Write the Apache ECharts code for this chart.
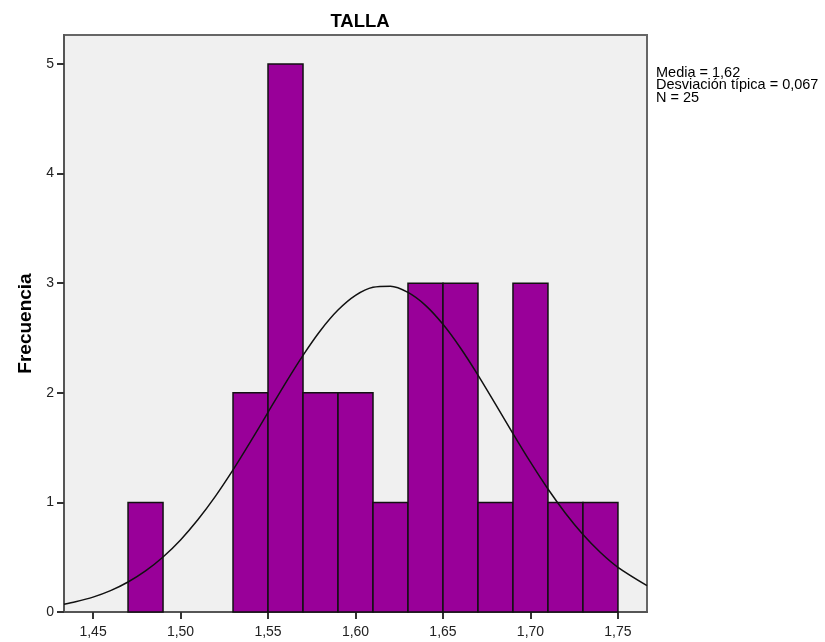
<!DOCTYPE html>
<html><head><meta charset="utf-8">
<script src="https://cdn.jsdelivr.net/npm/echarts@6/dist/echarts.min.js"></script>
<style>html,body{margin:0;padding:0;background:#fff}#c{width:825px;height:642px}</style>
</head><body><div id="c"></div>
<script>
// Histogram bins (lower edge, upper edge) and frequencies
var binStart = [1.47, 1.53, 1.55, 1.57, 1.59, 1.61, 1.63, 1.65, 1.67, 1.69, 1.71, 1.73];
var binEnd   = [1.49, 1.55, 1.57, 1.59, 1.61, 1.63, 1.65, 1.67, 1.69, 1.71, 1.73, 1.75];
var freq     = [1, 2, 5, 2, 2, 1, 3, 3, 1, 3, 1, 1];
// Normal curve
var curveX = [1.4334, 1.44, 1.45, 1.46, 1.47, 1.48, 1.49, 1.50, 1.51, 1.52, 1.53, 1.54, 1.55, 1.56, 1.57, 1.58, 1.59, 1.60,
              1.61, 1.62, 1.63, 1.64, 1.65, 1.66, 1.67, 1.68, 1.69, 1.70, 1.71, 1.72, 1.73, 1.74, 1.75, 1.7666];
var curveY = [0.071, 0.093, 0.136, 0.195, 0.274, 0.375, 0.502, 0.658, 0.844, 1.057, 1.296, 1.554, 1.822, 2.089, 2.342, 2.569, 2.755, 2.889,
              2.963, 2.973, 2.916, 2.798, 2.625, 2.409, 2.162, 1.897, 1.628, 1.367, 1.122, 0.901, 0.707, 0.543, 0.408, 0.241];
var xTicks = [1.45, 1.50, 1.55, 1.60, 1.65, 1.70, 1.75];
var yTicks = [0, 1, 2, 3, 4, 5];
var titleText = 'TALLA';
var statsText = ['Media = 1,62', 'Desviación típica = 0,067', 'N = 25'];

var font = '"Liberation Sans", Arial, sans-serif';
var chart = echarts.init(document.getElementById('c'));
var barData = binStart.map(function (s, i) { return [s, binEnd[i], freq[i]]; });
var lineData = curveX.map(function (x, i) { return [x, curveY[i]]; });

chart.setOption({
  animation: false,
  title: {
    text: titleText, left: 355, top: 7, textAlign: 'center',
    textStyle: { fontFamily: font, fontSize: 18.5, fontWeight: 'bold', color: '#000' }
  },
  graphic: [{
    type: 'text', left: 656, top: 65,
    style: { text: statsText.join('\n'), fontFamily: font, fontSize: 14.5, lineHeight: 12.5, fill: '#000' }
  }],
  grid: {
    left: 64, right: 178, top: 35, bottom: 30,
    show: true, backgroundColor: '#f0f0f0', borderColor: '#666', borderWidth: 2
  },
  xAxis: {
    type: 'value', min: 1.4334, max: 1.7666,
    axisLine: { show: true, lineStyle: { color: '#555', width: 2 } },
    splitLine: { show: false },
    axisTick: { show: true, length: 7, lineStyle: { color: '#333', width: 2 }, customValues: xTicks },
    axisLabel: {
      customValues: xTicks, margin: 13, color: '#222', fontFamily: font, fontSize: 14,
      formatter: function (v) { return v.toFixed(2).replace('.', ','); }
    }
  },
  yAxis: {
    type: 'value', min: 0, max: 5.265,
    name: 'Frecuencia', nameLocation: 'middle', nameGap: 29, nameRotate: 90,
    nameTextStyle: { fontFamily: font, fontSize: 19, fontWeight: 'bold', color: '#000' },
    axisLine: { show: true, lineStyle: { color: '#555', width: 2 } },
    splitLine: { show: false },
    axisTick: { show: true, length: 7, lineStyle: { color: '#333', width: 2 }, customValues: yTicks },
    axisLabel: { customValues: yTicks, margin: 10, color: '#222', fontFamily: font, fontSize: 14 }
  },
  series: [{
    type: 'custom',
    data: barData,
    encode: { x: [0, 1], y: 2 },
    renderItem: function (params, api) {
      var p0 = api.coord([api.value(0), api.value(2)]);
      var p1 = api.coord([api.value(1), 0]);
      return {
        type: 'rect',
        shape: { x: p0[0], y: p0[1], width: p1[0] - p0[0], height: p1[1] - p0[1] },
        style: { fill: '#990099', stroke: '#111', lineWidth: 1.5 }
      };
    },
    z: 2
  }, {
    type: 'line', data: lineData, smooth: 0.3, symbol: 'none',
    lineStyle: { color: '#111', width: 1.5 }, z: 3
  }]
});
</script></body></html>
